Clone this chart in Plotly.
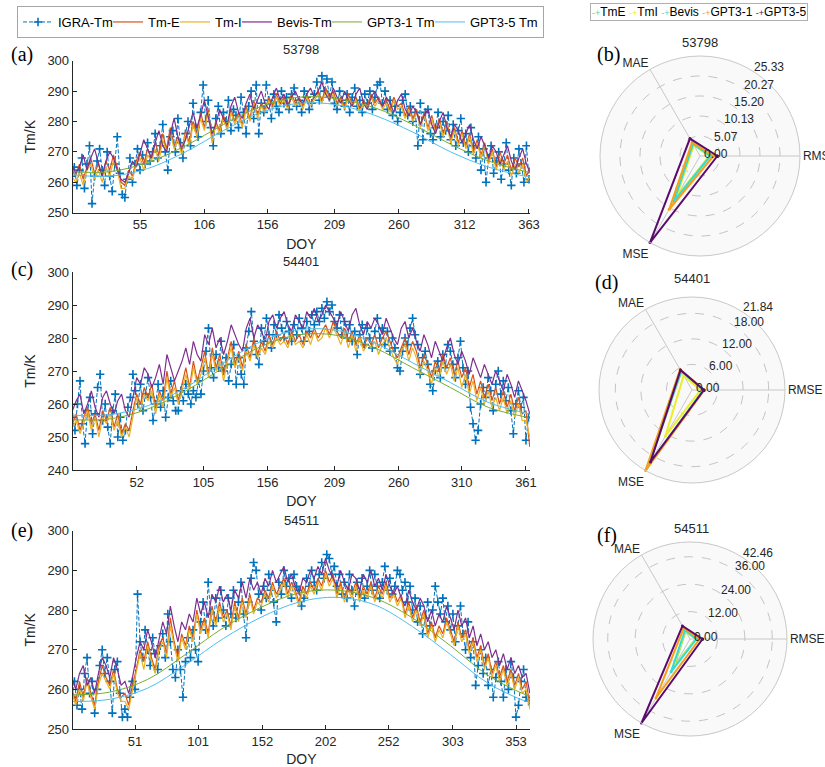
import math
import plotly.graph_objects as go

W, H = 825, 767
FONT = "Liberation Sans, Arial, sans-serif"
SERIF = "Liberation Serif, Times New Roman, serif"

# ---------------- data ----------------
DOY_IGRA = list(range(1, 365, 2))     # every 2nd day
DOY_MODEL = list(range(1, 365, 3))    # every 3rd day
DOY_GPT = [1, 31, 61, 91, 121, 151, 181, 211, 241, 271, 301, 331, 361, 365]

ticks_a = [55, 106, 156, 209, 260, 312, 363]
ticks_c = [52, 105, 156, 209, 260, 310, 361]
ticks_e = [51, 101, 152, 202, 252, 303, 353]

# ---- station 53798 ----
igra_a = [262, 265, 259, 264, 268, 258, 266, 272, 253, 262,
          267, 271, 264, 259, 270, 262, 257, 266, 275, 263,
          256, 255, 261, 268, 260, 266, 271, 264, 269, 266,
          273, 267, 270, 276, 268, 272, 279, 270, 264, 275,
          277, 270, 281, 273, 268, 276, 280, 272, 286, 278,
          275, 283, 292, 280, 287, 278, 272, 281, 285, 276,
          283, 280, 287, 277, 284, 282, 278, 288, 283, 276,
          285, 290, 281, 292, 276, 286, 283, 292, 287, 281,
          289, 285, 283, 290, 286, 288, 284, 289, 291, 285,
          287, 283, 290, 288, 284, 286, 289, 293, 287, 295,
          290, 294, 288, 293, 286, 284, 290, 287, 285, 289,
          283, 288, 291, 285, 287, 283, 289, 286, 290, 284,
          288, 292, 293, 286, 290, 284, 287, 282, 285, 280,
          283, 287, 289, 282, 285, 280, 283, 272, 286, 274,
          283, 284, 276, 274, 278, 283, 275, 280, 277, 282,
          274, 279, 272, 277, 281, 273, 276, 270, 278, 272,
          268, 275, 264, 271, 260, 268, 272, 263, 267, 270,
          261, 266, 273, 264, 259, 268, 263, 271, 266, 260,
          272, 261]
tme_a = [264, 262, 266, 261, 265, 268, 263, 266, 262, 267,
         264, 269, 265, 260, 259, 264, 262, 267, 270, 266,
         271, 268, 273, 269, 276, 271, 278, 272, 275, 270,
         277, 273, 280, 276, 283, 278, 284, 274, 280, 277,
         282, 278, 284, 280, 283, 279, 285, 281, 287, 282,
         286, 284, 288, 285, 289, 286, 288, 285, 289, 286,
         288, 285, 289, 286, 288, 290, 287, 291, 288, 290,
         286, 288, 285, 289, 286, 288, 284, 287, 285, 289,
         286, 288, 285, 287, 284, 288, 285, 286, 282, 285,
         281, 284, 279, 283, 278, 282, 277, 281, 276, 280,
         274, 278, 273, 277, 272, 276, 270, 274, 269, 273,
         267, 271, 265, 270, 266, 269, 264, 268, 265, 268,
         262, 265]
tmi_a = [262, 260, 263, 259, 264, 266, 261, 264, 260, 265,
         262, 267, 264, 258, 258, 262, 261, 266, 268, 264,
         269, 267, 271, 267, 274, 270, 276, 271, 274, 269,
         276, 272, 279, 275, 281, 277, 283, 273, 279, 276,
         281, 277, 283, 279, 282, 278, 284, 280, 286, 281,
         285, 283, 287, 284, 288, 285, 287, 284, 288, 285,
         287, 284, 288, 285, 287, 289, 286, 290, 287, 289,
         285, 287, 284, 288, 285, 287, 283, 286, 284, 288,
         285, 287, 284, 286, 283, 287, 284, 285, 281, 284,
         280, 283, 278, 282, 277, 281, 276, 280, 275, 279,
         273, 277, 272, 276, 271, 275, 269, 273, 268, 272,
         266, 270, 264, 268, 264, 267, 262, 266, 263, 266,
         260, 262]
bevis_a = [266, 263, 265, 269, 264, 268, 271, 266, 262, 267,
           270, 268, 264, 261, 260, 263, 267, 265, 270, 274,
           271, 268, 273, 277, 272, 270, 276, 281, 275, 271,
           274, 279, 283, 278, 282, 287, 281, 276, 279, 284,
           281, 279, 285, 288, 283, 281, 286, 289, 284, 287,
           290, 286, 284, 288, 291, 287, 289, 285, 288, 290,
           287, 286, 289, 291, 288, 290, 293, 289, 287, 291,
           288, 286, 290, 287, 285, 289, 291, 286, 284, 288,
           290, 287, 285, 288, 286, 283, 287, 289, 284, 282,
           285, 283, 279, 282, 284, 279, 276, 280, 283, 278,
           275, 279, 277, 273, 276, 279, 274, 271, 275, 272,
           268, 272, 270, 266, 269, 272, 267, 264, 268, 271,
           266, 263]
gpt1_a = [263.5, 263.5, 266.5, 272, 279, 285, 288, 287.5, 284.5, 279, 272.5, 267, 263.5, 263.3]
gpt5_a = [262.5, 262, 264.5, 270, 277, 283, 286, 285.5, 282, 276.5, 270, 265, 262, 262]

# ---- station 54401 ----
igra_c = [256, 252, 260, 267, 254, 248, 258, 262, 251, 257,
          265, 269, 255, 260, 253, 248, 258, 263, 250, 256,
          249, 252, 259, 262, 269, 264, 260, 266, 258, 263,
          268, 262, 255, 260, 266, 259, 264, 256, 262, 267,
          261, 258, 258, 264, 261, 266, 263, 260, 264, 262,
          267, 263, 270, 276, 283, 271, 268, 275, 271, 279,
          270, 274, 267, 272, 278, 266, 274, 269, 266, 277,
          282, 288, 279, 275, 272, 283, 279, 286, 281, 277,
          284, 281, 287, 283, 280, 285, 282, 279, 284, 281,
          286, 283, 279, 285, 282, 287, 284, 288, 285, 289,
          286, 291, 288, 290, 285, 283, 287, 281, 285, 280,
          284, 279, 282, 275, 281, 284, 278, 283, 280, 277,
          282, 286, 280, 283, 278, 282, 276, 280, 277, 271,
          270, 276, 280, 278, 283, 286, 281, 278, 269, 274,
          276, 272, 266, 264, 270, 273, 268, 275, 271, 278,
          276, 272, 268, 274, 279, 271, 266, 270, 259, 254,
          249, 252, 260, 265, 262, 268, 264, 258, 266, 270,
          263, 267, 261, 265, 258, 251, 260, 264, 259, 262,
          249, 256]
tme_c = [254, 257, 252, 256, 259, 254, 257, 252, 258, 255,
         259, 253, 257, 251, 254, 252, 258, 263, 260, 265,
         262, 266, 259, 264, 261, 270, 263, 267, 261, 266,
         271, 265, 273, 267, 271, 276, 269, 277, 271, 275,
         269, 274, 279, 272, 276, 271, 278, 274, 280, 275,
         279, 276, 281, 278, 282, 279, 281, 278, 282, 279,
         281, 278, 282, 280, 283, 280, 282, 284, 281, 285,
         282, 280, 283, 279, 282, 278, 281, 277, 280, 278,
         281, 277, 280, 282, 279, 276, 274, 277, 280, 275,
         279, 276, 271, 275, 272, 268, 273, 270, 275, 271,
         274, 269, 273, 268, 271, 265, 269, 263, 267, 262,
         266, 261, 265, 260, 264, 259, 263, 258, 262, 257,
         258, 247]
tmi_c = [253, 255, 251, 254, 258, 252, 256, 250, 256, 254,
         257, 252, 255, 250, 253, 250, 256, 262, 258, 263,
         261, 264, 257, 263, 259, 268, 262, 265, 260, 264,
         269, 264, 271, 266, 269, 274, 268, 275, 270, 273,
         267, 273, 277, 271, 274, 270, 276, 273, 278, 274,
         277, 275, 279, 277, 280, 278, 279, 277, 281, 278,
         279, 277, 281, 278, 282, 279, 280, 283, 280, 283,
         281, 278, 282, 277, 281, 276, 280, 276, 278, 277,
         279, 275, 278, 280, 277, 274, 272, 276, 278, 273,
         277, 274, 269, 273, 270, 266, 271, 268, 273, 269,
         272, 267, 271, 265, 269, 263, 267, 261, 265, 260,
         264, 259, 262, 258, 262, 257, 261, 256, 260, 255,
         255, 250]
bevis_c = [258, 261, 263, 257, 260, 264, 259, 256, 262, 264,
           260, 257, 261, 263, 258, 256, 262, 268, 266, 271,
           269, 265, 268, 272, 266, 275, 271, 267, 270, 273,
           277, 272, 279, 275, 273, 281, 278, 283, 277, 280,
           275, 279, 284, 281, 278, 276, 283, 286, 280, 284,
           282, 279, 285, 287, 283, 286, 288, 284, 282, 287,
           285, 283, 288, 286, 289, 285, 287, 290, 288, 286,
           284, 288, 285, 282, 287, 289, 284, 281, 285, 283,
           286, 284, 281, 286, 283, 280, 278, 283, 285, 280,
           283, 279, 276, 281, 278, 274, 279, 276, 273, 277,
           280, 275, 272, 276, 273, 269, 274, 271, 268, 272,
           269, 266, 270, 267, 264, 269, 266, 262, 267, 264,
           261, 257]
gpt1_c = [255.2, 255.5, 258.5, 264, 271, 277.5, 281, 280.8, 277, 271, 265, 259, 256, 255.5]
gpt5_c = [256.6, 256.8, 259.5, 265, 272.5, 279, 282.5, 282.3, 278.5, 272.5, 266.5, 260.5, 257.2, 256.8]

# ---- station 54511 ----
igra_e = [258, 262, 256, 260, 255, 264, 268, 259, 262, 254,
          260, 266, 270, 264, 268, 262, 254, 265, 267, 259,
          253, 255, 253, 258, 262, 260, 284, 272, 268, 275,
          270, 266, 273, 269, 265, 271, 274, 268, 279, 272,
          265, 263, 270, 265, 258, 267, 273, 268, 275, 270,
          267, 277, 282, 275, 287, 279, 276, 283, 278, 285,
          280, 276, 283, 279, 285, 278, 282, 287, 279, 273,
          282, 288, 292, 290, 284, 280, 286, 283, 289, 285,
          282, 277, 287, 284, 290, 286, 288, 283, 289, 286,
          285, 281, 283, 288, 286, 290, 287, 285, 289, 292,
          288, 294, 293, 289, 291, 286, 289, 284, 287, 283,
          289, 285, 281, 287, 284, 288, 283, 286, 290, 285,
          289, 286, 283, 287, 291, 285, 288, 284, 286, 290,
          289, 285, 287, 282, 286, 280, 283, 277, 281, 274,
          278, 282, 276, 280, 286, 282, 279, 283, 277, 281,
          275, 279, 272, 276, 281, 274, 270, 277, 268, 272,
          261, 266, 270, 264, 268, 261, 265, 258, 263, 267,
          262, 258, 265, 260, 267, 263, 253, 256, 262, 265,
          258, 257]
tme_e = [260, 257, 262, 258, 263, 259, 256, 262, 266, 263,
         261, 265, 260, 258, 259, 256, 261, 265, 270, 267,
         272, 268, 265, 271, 273, 269, 278, 272, 268, 274,
         271, 276, 273, 280, 275, 278, 274, 281, 277, 282,
         278, 280, 276, 282, 278, 283, 279, 284, 280, 283,
         282, 285, 283, 287, 284, 286, 288, 284, 287, 285,
         282, 286, 284, 287, 285, 288, 286, 290, 287, 289,
         284, 287, 283, 286, 284, 287, 283, 286, 284, 287,
         283, 286, 284, 287, 283, 285, 282, 284, 279, 282,
         278, 281, 277, 280, 274, 277, 273, 276, 274, 278,
         275, 272, 277, 273, 275, 270, 273, 268, 271, 266,
         269, 264, 267, 263, 266, 262, 265, 261, 264, 260,
         262, 256]
tmi_e = [259, 256, 260, 257, 262, 258, 255, 261, 264, 262,
         260, 264, 259, 257, 257, 255, 260, 264, 269, 265,
         271, 267, 264, 270, 272, 268, 276, 271, 267, 273,
         270, 275, 272, 279, 274, 277, 273, 280, 276, 281,
         277, 279, 275, 281, 277, 282, 278, 283, 279, 282,
         281, 284, 282, 286, 283, 285, 287, 283, 286, 284,
         281, 285, 283, 286, 284, 287, 285, 289, 286, 288,
         283, 286, 282, 285, 283, 286, 282, 285, 283, 286,
         282, 285, 283, 286, 282, 284, 281, 283, 278, 281,
         277, 280, 276, 279, 273, 276, 272, 275, 273, 277,
         274, 271, 276, 272, 274, 269, 272, 267, 270, 265,
         268, 263, 266, 262, 265, 261, 264, 260, 263, 259,
         260, 255]
bevis_e = [263, 260, 264, 266, 261, 263, 259, 264, 268, 266,
           263, 268, 265, 261, 262, 259, 263, 268, 272, 270,
           275, 272, 268, 273, 277, 274, 281, 276, 272, 277,
           275, 279, 277, 283, 279, 282, 278, 284, 282, 286,
           282, 284, 280, 285, 283, 287, 283, 288, 285, 287,
           284, 288, 286, 290, 287, 289, 291, 287, 289, 286,
           284, 288, 287, 290, 288, 291, 289, 293, 290, 288,
           286, 290, 287, 285, 289, 288, 285, 289, 287, 290,
           286, 288, 285, 289, 286, 284, 286, 283, 281, 285,
           282, 280, 283, 281, 277, 280, 276, 279, 277, 281,
           278, 275, 280, 276, 278, 273, 276, 271, 274, 270,
           272, 268, 270, 266, 269, 265, 268, 264, 266, 263,
           264, 259]
gpt1_e = [258.6, 259.3, 262.5, 268.8, 275.5, 280.7, 284.3, 285, 283, 278, 271, 263.5, 258.6, 258.3]
gpt5_e = [256.9, 257.5, 260.3, 266.2, 272.8, 278.2, 282, 283.2, 281.3, 275.8, 268.8, 261.5, 257, 256.8]

# ---- radar charts (RMSE, MAE, MSE) ----
metrics = ["RMSE", "MAE", "MSE"]
radar_names = ["TmE", "TmI", "Bevis", "GPT3-1", "GPT3-5"]
b_tme = [2.5, 3.3, 12.5]
b_tmi = [2.4, 3.2, 12.0]
b_bevis = [2.6, 3.5, 13.2]
b_gpt1 = [3.4, 4.0, 15.6]
b_gpt5 = [4.4, 5.1, 25.33]
d_tme = [2.6, 5.0, 20.0]
d_tmi = [2.0, 3.9, 12.5]
d_bevis = [2.7, 5.2, 21.2]
d_gpt1 = [2.9, 5.6, 21.84]
d_gpt5 = [2.8, 5.4, 19.5]
f_tme = [2.5, 3.9, 13.9]
f_tmi = [2.6, 4.1, 14.8]
f_bevis = [2.8, 4.4, 16.5]
f_gpt1 = [4.2, 5.5, 29.8]
f_gpt5 = [5.5, 6.6, 42.46]
rt_b = [0, 5.07, 10.13, 15.20, 20.27, 25.33]
rt_d = [0, 6.00, 12.00, 18.00, 21.84]
rt_f = [0, 12.00, 24.00, 36.00, 42.46]

# ---------------- styles ----------------
TS_NAMES = ["IGRA-Tm", "Tm-E", "Tm-I", "Bevis-Tm", "GPT3-1 Tm", "GPT3-5 Tm"]
TS_COLORS = ["#0072BD", "#D95319", "#EDB120", "#7E2F8E", "#77AC30", "#4DBEEE"]
LEG_W = [45, 22, 17, 45, 58, 68]
RADAR_COLORS = ["#5fd877", "#ecec2c", "#30ddd6", "#f5a01a", "#5a0b6c"]


def px(x):
    return x / W


def py(y):
    return 1 - y / H


fig = go.Figure()

panels = [
    ("x", "y", igra_a, tme_a, tmi_a, bevis_a, gpt1_a, gpt5_a, True),
    ("x2", "y2", igra_c, tme_c, tmi_c, bevis_c, gpt1_c, gpt5_c, False),
    ("x3", "y3", igra_e, tme_e, tmi_e, bevis_e, gpt1_e, gpt5_e, False),
]
for xa, ya, ig, te, ti, bv, g1, g5, show in panels:
    fig.add_trace(go.Scatter(
        x=DOY_IGRA, y=ig, name=TS_NAMES[0], xaxis=xa, yaxis=ya, mode="lines+markers",
        line=dict(color=TS_COLORS[0], width=1, dash="4px,2px"),
        marker=dict(symbol="cross-thin", size=6, color=TS_COLORS[0],
                    line=dict(width=1.6, color=TS_COLORS[0])),
        showlegend=show, legendwidth=LEG_W[0]))
    for k, series in enumerate([te, ti, bv], start=1):
        fig.add_trace(go.Scatter(
            x=DOY_MODEL, y=series, name=TS_NAMES[k], xaxis=xa, yaxis=ya, mode="lines",
            line=dict(color=TS_COLORS[k], width=1.2), showlegend=show, legendwidth=LEG_W[k]))
    for k, series in ((4, g1), (5, g5)):
        fig.add_trace(go.Scatter(
            x=DOY_GPT, y=series, name=TS_NAMES[k], xaxis=xa, yaxis=ya, mode="lines",
            line=dict(color=TS_COLORS[k], width=1, shape="spline"),
            showlegend=show, legendwidth=LEG_W[k]))

# radar geometry in pixels: centre x, centre y, radius
GEO = [(700, 156, 100), (692, 390, 93), (690, 639, 97)]
radars = [
    ("polar", [b_tme, b_tmi, b_bevis, b_gpt1, b_gpt5], rt_b),
    ("polar2", [d_tme, d_tmi, d_bevis, d_gpt1, d_gpt5], rt_d),
    ("polar3", [f_tme, f_tmi, f_bevis, f_gpt1, f_gpt5], rt_f),
]
for sp, rows, _ in radars:
    for name, color, vals in zip(radar_names, RADAR_COLORS, rows):
        fig.add_trace(go.Scatterpolar(
            r=vals + vals[:1], theta=metrics + metrics[:1], name=name, subplot=sp,
            mode="lines+markers", line=dict(color=color, width=2),
            marker=dict(size=3, color=color), showlegend=False))

# ---------------- layout ----------------
x_dom = [px(72.7), px(530)]
axis_font = dict(family=FONT, size=13, color="#262626")


def xaxis(tv, rng, anchor):
    return dict(domain=x_dom, range=rng, tickvals=tv, anchor=anchor, showline=True,
                linecolor="#262626", linewidth=1, ticks="inside", ticklen=4,
                tickcolor="#262626", tickfont=axis_font, showgrid=False, zeroline=False,
                automargin=False,
                title=dict(text="DOY", font=dict(family=FONT, size=14, color="#262626"),
                           standoff=7))


def yaxis(dom, rng, anchor):
    return dict(domain=dom, range=rng, dtick=10, anchor=anchor, showline=True,
                linecolor="#262626", linewidth=1, ticks="inside", ticklen=4,
                tickcolor="#262626", tickfont=axis_font, showgrid=False, zeroline=False,
                automargin=False,
                title=dict(text="Tm/K", font=dict(family=FONT, size=14, color="#262626"),
                           standoff=8))


def polar(geo, rmax, tv):
    cx, cy, R = geo
    return dict(
        domain=dict(x=[px(cx - R), px(cx + R)], y=[py(cy + R), py(cy - R)]),
        bgcolor="#f9f9f9",
        radialaxis=dict(range=[0, rmax], tickvals=tv, angle=60, showline=False, ticks="",
                        showticklabels=False, gridcolor="#c4c4c4", griddash="dash",
                        gridwidth=1),
        angularaxis=dict(type="category", categoryorder="array", categoryarray=metrics,
                         rotation=0, direction="counterclockwise", showline=True,
                         linecolor="#c8c8c8", linewidth=1, gridcolor="#c8c8c8", ticks="",
                         tickfont=dict(family=FONT, size=12, color="#262626")))


fig.update_layout(
    width=W, height=H, margin=dict(l=0, r=0, t=0, b=0, autoexpand=False),
    paper_bgcolor="white", plot_bgcolor="white",
    font=dict(family=FONT, color="#262626"),
    xaxis=xaxis(ticks_a, [1.7, 363.8], "y"),
    yaxis=yaxis([py(212.7), py(60.7)], [250, 300], "x"),
    xaxis2=xaxis(ticks_c, [1.2, 364.2], "y2"),
    yaxis2=yaxis([py(470), py(272)], [240, 300], "x2"),
    xaxis3=xaxis(ticks_e, [1.6, 364.1], "y3"),
    yaxis3=yaxis([py(729), py(530.7)], [250, 300], "x3"),
    polar=polar(GEO[0], rt_b[-1], rt_b),
    polar2=polar(GEO[1], rt_d[-1], rt_d),
    polar3=polar(GEO[2], rt_f[-1], rt_f),
    legend=dict(orientation="h", x=px(17), y=py(6), xanchor="left", yanchor="top",
                bordercolor="#a6a6a6", borderwidth=1, bgcolor="white",
                font=dict(family=FONT, size=13, color="black"), itemwidth=30),
)

ann = []
# panel letters
for txt, x, y in [("(a)", 22, 55), ("(b)", 608, 55), ("(c)", 22, 269),
                  ("(d)", 606, 282), ("(e)", 22, 530), ("(f)", 607, 535)]:
    ann.append(dict(text=txt, x=px(x), y=py(y), xref="paper", yref="paper",
                    xanchor="center", yanchor="middle", showarrow=False,
                    font=dict(family=SERIF, size=20, color="black")))
# station titles
for txt, x, y in [("53798", 301, 50), ("54401", 301, 262), ("54511", 301, 520),
                  ("53798", 700, 43), ("54401", 692, 278), ("54511", 691, 528)]:
    ann.append(dict(text=txt, x=px(x), y=py(y), xref="paper", yref="paper",
                    xanchor="center", yanchor="middle", showarrow=False,
                    font=dict(family=FONT, size=13, color="#262626")))
# radial tick labels along the 60 degree direction of each radar
for (cx, cy, R), (_, _, tv) in zip(GEO, radars):
    rmax = tv[-1]
    for v in tv:
        f = v / rmax * R
        lx = cx + f * math.cos(math.radians(60)) + 2
        ly = cy - f * math.sin(math.radians(60)) - 2
        ann.append(dict(text=f"{v:.2f}", x=px(lx), y=py(ly), xref="paper", yref="paper",
                        xanchor="left", yanchor="middle", showarrow=False,
                        font=dict(family=FONT, size=12, color="#262626")))
# radar legend
parts = []
for name, color in zip(radar_names, RADAR_COLORS):
    parts.append(f'<span style="color:{color};font-size:9px">-+</span>{name}')
ann.append(dict(text=" ".join(parts), x=px(590), y=py(3), xref="paper", yref="paper",
                xanchor="left", yanchor="top", showarrow=False, align="left",
                bordercolor="#b0b0b0", borderwidth=1, borderpad=1, bgcolor="white",
                font=dict(family=FONT, size=12, color="black")))
fig.update_layout(annotations=ann)

fig.write_html("out.html", config={"displayModeBar": False},
               post_script="document.body.style.margin='0px';")
